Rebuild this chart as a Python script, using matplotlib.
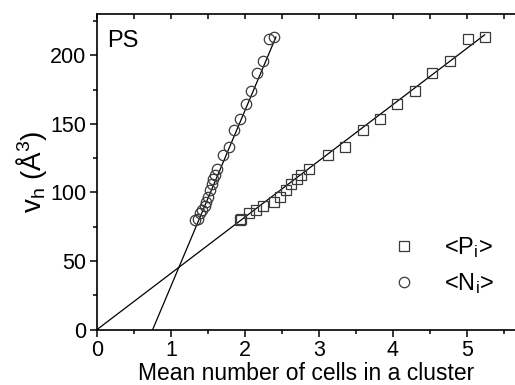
import numpy as np
import matplotlib.pyplot as plt
from matplotlib.ticker import MultipleLocator

plt.rcParams['font.family'] = ['Liberation Sans', 'DejaVu Sans']
plt.rcParams['mathtext.fontset'] = 'custom'
plt.rcParams['mathtext.rm'] = 'Liberation Sans'
plt.rcParams['mathtext.it'] = 'Liberation Sans:italic'
plt.rcParams['mathtext.default'] = 'regular'

# v_h values (Å^3), shared by both series
vh = [213, 211.6, 196, 187, 174, 164.6, 153.3, 145.8, 133.2, 127.2, 116.8,
      112.5, 110, 106, 101.5, 97, 93, 90, 87, 85, 81, 80]
# mean number of cells <P_i>
p_mean = [5.25, 5.01, 4.77, 4.53, 4.30, 4.06, 3.82, 3.59, 3.35, 3.12, 2.87,
          2.76, 2.70, 2.62, 2.55, 2.47, 2.40, 2.25, 2.15, 2.05, 1.95, 1.93]
# mean number of cells <N_i>
n_mean = [2.40, 2.33, 2.25, 2.17, 2.08, 2.01, 1.935, 1.86, 1.78, 1.70, 1.62,
          1.597, 1.575, 1.553, 1.53, 1.507, 1.476, 1.462, 1.418, 1.39, 1.372, 1.32]

# linear fits: slope, intercept, x range
p_fit = (41.0, 0.0, 0.0, 5.24)
n_fit = (128.0, -96.5, 96.5 / 128.0, 2.42)

fig = plt.figure(figsize=(5.15, 3.85), dpi=100)
ax = fig.add_axes([0.188, 0.1436, 0.812, 0.82])

for slope, icpt, x0, x1 in (p_fit, n_fit):
    xs = np.array([x0, x1])
    ax.plot(xs, slope * xs + icpt, color='black', lw=0.9, zorder=2)

ax.plot(p_mean, vh, ls='none', marker='s', ms=7, mfc='none', mec='#3a3a3a',
        mew=0.9, label='<P$_i$>', zorder=3)
ax.plot(n_mean, vh, ls='none', marker='o', ms=7.5, mfc='none', mec='#3a3a3a',
        mew=0.9, label='<N$_i$>', zorder=3)

ax.set_xlim(0, 5.65)
ax.set_ylim(0, 230)
ax.xaxis.set_major_locator(MultipleLocator(1))
ax.xaxis.set_minor_locator(MultipleLocator(0.5))
ax.yaxis.set_major_locator(MultipleLocator(50))
ax.yaxis.set_minor_locator(MultipleLocator(25))
ax.tick_params(which='both', direction='out', labelsize=15.5, width=1.1,
               top=False, right=False, pad=2.5)
ax.tick_params(which='major', length=5)
ax.tick_params(which='minor', length=3)
for s in ax.spines.values():
    s.set_linewidth(1.2)
ax.spines['right'].set_visible(False)

# inward ticks along the top edge
sec = ax.secondary_xaxis('top')
sec.xaxis.set_major_locator(MultipleLocator(0.5))
sec.tick_params(direction='in', length=3.5, width=1.1, labeltop=False)
sec.spines['top'].set_visible(False)

ax.set_xlabel('Mean number of cells in a cluster', fontsize=16.5, labelpad=0.5)
ax.set_ylabel('v$_h$ ($\\AA^3$)', fontsize=20, labelpad=1)
ax.text(0.025, 0.915, 'PS', transform=ax.transAxes, fontsize=17, va='center')

ax.legend(loc='lower right', bbox_to_anchor=(1.0, 0.04), frameon=False,
          fontsize=17, handlelength=1.2, handletextpad=1.1, labelspacing=0.45)

fig.savefig('out.png', dpi=100)
